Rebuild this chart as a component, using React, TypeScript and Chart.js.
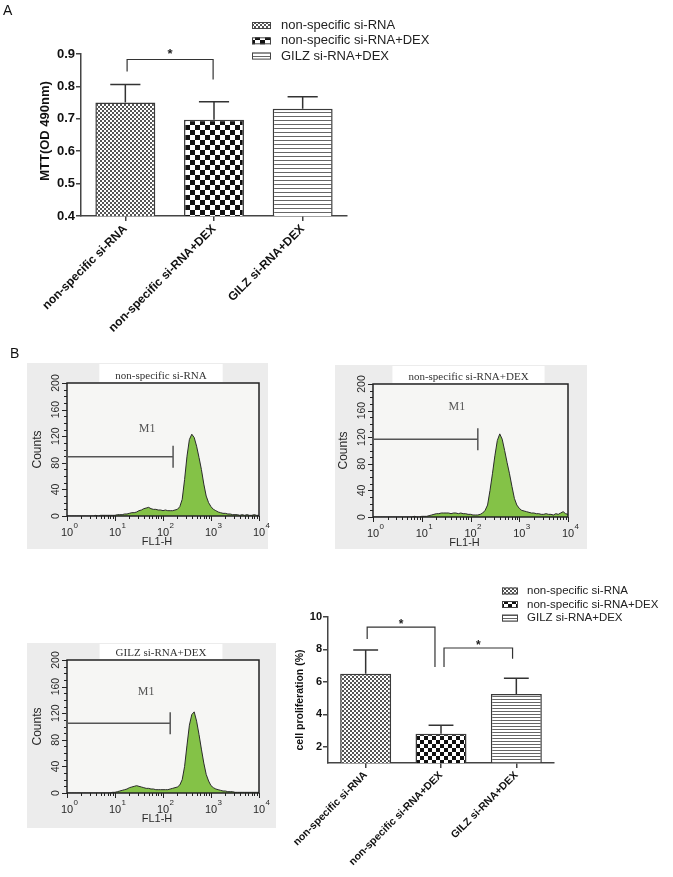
import React, { useEffect, useRef } from 'react';
import { Chart, registerables } from 'chart.js';

Chart.register(...registerables);

const PAGE_W = 673;
const PAGE_H = 877;
const SANS = '"Liberation Sans", Arial, Helvetica, sans-serif';
const SERIF = '"Liberation Serif", "Times New Roman", serif';

// ---------------- data ----------------
const groups = ['non-specific si-RNA', 'non-specific si-RNA+DEX', 'GILZ si-RNA+DEX'];

const mttMeans = [0.75, 0.697, 0.731];
const mttErrors = [0.056, 0.056, 0.037];
const mttTicks = [0.4, 0.5, 0.6, 0.7, 0.8, 0.9];
const mttBrackets = [{ from: 0.02, to: 0.99, level: 0.883, leftEnd: 0.846, rightEnd: 0.821 }];

const prolifMeans = [6.5, 2.8, 5.26];
const prolifErrors = [1.47, 0.52, 0.96];
const prolifTicks = [2, 4, 6, 8, 10];
const prolifBrackets = [
  { from: 0.02, to: 0.92, level: 9.38, leftEnd: 8.65, rightEnd: 6.92 },
  { from: 1.04, to: 1.95, level: 8.09, leftEnd: 6.92, rightEnd: 7.42 },
];

const histTitles = ['non-specific si-RNA', 'non-specific si-RNA+DEX', 'GILZ si-RNA+DEX'];
const histBinStep = 0.05; // decades per channel (FL1-H, log scale 10^0..10^4)
const countsNonSpecific = [
  0, 0, 0, 0, 0, 0, 0, 0, 0, 0, 0, 0, 1, 0, 1,
  1, 1, 1, 1, 1,
  1, 2, 2, 2, 3, 3, 4, 5, 5, 6, 8, 9, 11, 12, 13, 11, 10, 10, 9, 9,
  8, 9, 8, 8, 8, 9, 10, 14, 25, 55, 90, 115, 123, 118, 105, 88, 70, 48, 30, 20,
  14, 10, 8, 6, 5, 4, 4, 3, 3,
  2, 2, 2, 1, 2, 1, 2, 1, 1, 2, 1, 1,
];
const countsNonSpecificDex = [
  0, 0, 0, 0, 0, 0, 0, 0, 0, 0, 0, 0, 0, 0, 0, 0, 0, 1, 0, 0, 1,
  1, 1, 2, 3, 4, 5, 5, 6, 6, 6, 6, 5, 6, 6, 5, 6, 5, 5, 4, 4, 3, 3, 3,
  4, 6, 10, 18, 40, 65, 92, 115, 125, 117, 100, 82, 65, 46, 28, 18,
  13, 10, 9, 8, 7, 6, 6, 5, 5, 4, 4, 5, 4, 4, 3, 5, 4, 6, 8, 5, 4,
];
const countsGilzDex = [
  0, 0, 0, 0, 0, 0, 0, 0, 0, 0, 0, 0, 0, 0, 0, 0, 0, 0, 0,
  1, 1, 2, 3, 4, 5, 6, 8, 9, 10, 11, 10, 9, 8, 7, 7, 6, 6, 5, 5, 5,
  5, 5, 5, 6, 7, 8, 9, 12, 20, 40, 72, 102, 118, 122, 108, 88, 66, 45, 28, 18,
  11, 8, 6, 5, 4, 3, 3, 2, 2, 2, 1, 1, 1, 1, 1, 1, 1, 1, 1, 1, 1,
];
const decadeTicks = [0, 1, 2, 3, 4];
const countTicks = [0, 40, 80, 120, 160, 200];
const m1Levels = [89, 117, 105];
const m1Ends = [2.21, 2.15, 2.15];
const m1LabelX = [1.67, 1.72, 1.65];
const m1LabelY = [131, 165, 152];

// ---------------- helpers ----------------
function makePattern(kind: string, size: number): any {
  const c = document.createElement('canvas');
  const g = c.getContext('2d')!;
  if (kind === 'fine') {
    c.width = 4; c.height = 4;
    g.fillStyle = '#ffffff'; g.fillRect(0, 0, 4, 4);
    g.fillStyle = '#555555'; g.fillRect(0, 0, 2, 2); g.fillRect(2, 2, 2, 2);
  } else if (kind === 'checker') {
    c.width = size * 2; c.height = size * 2;
    g.fillStyle = '#ffffff'; g.fillRect(0, 0, c.width, c.height);
    g.fillStyle = '#111111'; g.fillRect(0, 0, size, size); g.fillRect(size, size, size, size);
  } else {
    c.width = 4; c.height = size;
    g.fillStyle = '#ffffff'; g.fillRect(0, 0, 4, size);
    g.fillStyle = '#666666'; g.fillRect(0, 0, 4, 1);
  }
  return g.createPattern(c, 'repeat');
}

const canvasStyle: React.CSSProperties = { position: 'absolute', left: 0, top: 0, pointerEvents: 'none' };

// ---------------- bar panel ----------------
function BarPanel({ spec }: { spec: any }) {
  const ref = useRef<HTMLCanvasElement>(null);
  useEffect(() => {
    const canvas = ref.current!;
    const fills = [makePattern('fine', 2), makePattern('checker', spec.checker), makePattern('lines', spec.lines)];
    const { l, t, r, b } = spec.area;
    const overlay = {
      id: 'overlay',
      afterDraw(chart: any) {
        const g = chart.ctx;
        const xs = chart.scales.x;
        const ys = chart.scales.y;
        const step = xs.getPixelForValue(1) - xs.getPixelForValue(0);
        g.save();
        g.strokeStyle = '#333';
        g.lineWidth = 1.5;
        spec.means.forEach((m: number, i: number) => {
          const x = xs.getPixelForValue(i);
          const y0 = ys.getPixelForValue(m);
          const y1 = ys.getPixelForValue(m + spec.errors[i]);
          const half = (step * spec.capFrac) / 2;
          g.beginPath();
          g.moveTo(x, y0); g.lineTo(x, y1);
          g.moveTo(x - half, y1); g.lineTo(x + half, y1);
          g.stroke();
        });
        g.lineWidth = 1.2;
        spec.brackets.forEach((br: any) => {
          const x0 = xs.getPixelForValue(br.from);
          const x1 = xs.getPixelForValue(br.to);
          const yl = ys.getPixelForValue(br.level);
          g.strokeStyle = '#333';
          g.beginPath();
          g.moveTo(x0, ys.getPixelForValue(br.leftEnd));
          g.lineTo(x0, yl);
          g.lineTo(x1, yl);
          g.lineTo(x1, ys.getPixelForValue(br.rightEnd));
          g.stroke();
          g.fillStyle = '#222';
          g.font = spec.starFont;
          g.textAlign = 'center';
          g.textBaseline = 'alphabetic';
          g.fillText('*', (x0 + x1) / 2, yl + spec.starDy);
        });
        g.save();
        g.translate(spec.yTitlePos[0], spec.yTitlePos[1]);
        g.rotate(-Math.PI / 2);
        g.font = spec.yTitleFont;
        g.textAlign = 'center';
        g.textBaseline = 'middle';
        g.fillStyle = '#111';
        g.fillText(spec.yTitle, 0, 0);
        g.restore();
        const lg = spec.legend;
        groups.forEach((name, i) => {
          const cy = lg.y0 + i * lg.dy;
          g.fillStyle = fills[i];
          g.fillRect(lg.x, cy - lg.sh / 2, lg.sw, lg.sh);
          g.strokeStyle = '#444';
          g.lineWidth = 1;
          g.strokeRect(lg.x + 0.5, cy - lg.sh / 2 + 0.5, lg.sw - 1, lg.sh - 1);
          g.fillStyle = '#222';
          g.font = lg.font;
          g.textAlign = 'left';
          g.textBaseline = 'middle';
          g.fillText(name, lg.textX, cy);
        });
        g.restore();
      },
    };
    const chart = new Chart(canvas, {
      type: 'bar',
      data: {
        labels: groups,
        datasets: [
          {
            data: spec.means,
            backgroundColor: fills,
            borderColor: '#3a3a3a',
            borderWidth: 1.5,
            barPercentage: spec.barPct,
            categoryPercentage: 1,
          },
        ],
      },
      options: {
        animation: false,
        responsive: false,
        maintainAspectRatio: false,
        events: [],
        layout: { padding: { left: l - spec.yW, top: t, right: PAGE_W - r, bottom: PAGE_H - b - spec.xH } },
        plugins: { legend: { display: false }, tooltip: { enabled: false } },
        scales: {
          x: {
            type: 'category',
            grid: { display: true, drawOnChartArea: false, offset: false, tickLength: 5, color: '#444', lineWidth: 1.5 },
            border: { display: true, color: '#444', width: 1.5 },
            ticks: { minRotation: 45, maxRotation: 45, autoSkip: false, color: '#111', padding: 1, font: { family: SANS, size: spec.catSize, weight: 'bold' } },
            afterFit: (s: any) => { s.height = spec.xH; },
          },
          y: {
            type: 'linear',
            min: spec.yMin,
            max: spec.yMax,
            grid: { display: true, drawOnChartArea: false, tickLength: 5, color: '#444', lineWidth: 1.5 },
            border: { display: true, color: '#444', width: 1.5 },
            ticks: {
              color: '#111',
              padding: 1,
              font: { family: SANS, size: spec.tickSize, weight: 'bold' },
              callback: (v: any) => Number(v).toFixed(spec.digits),
            },
            afterBuildTicks: (s: any) => { s.ticks = spec.ticks.map((v: number) => ({ value: v })); },
            afterFit: (s: any) => { s.width = spec.yW; },
          },
        },
      } as any,
      plugins: [overlay],
    });
    return () => chart.destroy();
  }, []);
  return <canvas ref={ref} width={PAGE_W} height={PAGE_H} style={canvasStyle} />;
}

// ---------------- histogram panel ----------------
function HistPanel({ spec }: { spec: any }) {
  const ref = useRef<HTMLCanvasElement>(null);
  useEffect(() => {
    const canvas = ref.current!;
    const { l, t, r, b } = spec.box;
    const p = spec.panel;
    const deco = {
      id: 'deco',
      beforeDraw(chart: any) {
        const g = chart.ctx;
        const a = chart.chartArea;
        g.save();
        g.fillStyle = '#ececec';
        g.fillRect(p.x0, p.y0, p.x1 - p.x0, p.y1 - p.y0);
        g.fillStyle = '#f6f6f4';
        g.fillRect(a.left, a.top, a.right - a.left, a.bottom - a.top);
        g.font = `11px ${SERIF}`;
        const tw = g.measureText(spec.title).width;
        const cx = (a.left + a.right) / 2 - 2;
        g.fillStyle = '#ffffff';
        g.fillRect(cx - tw / 2 - 16, p.y0 + 1, tw + 32, a.top - p.y0 - 2);
        g.restore();
      },
      afterDraw(chart: any) {
        const g = chart.ctx;
        const a = chart.chartArea;
        const xs = chart.scales.x;
        const ys = chart.scales.y;
        g.save();
        // box
        g.strokeStyle = '#222';
        g.lineWidth = 1.5;
        g.strokeRect(a.left, a.top, a.right - a.left, a.bottom - a.top);
        // y ticks
        g.lineWidth = 1;
        g.beginPath();
        for (let v = 0; v <= 200; v += 10) {
          const y = Math.round(ys.getPixelForValue(v)) + 0.5;
          const len = countTicks.includes(v) ? 5 : 3;
          g.moveTo(a.left - len, y); g.lineTo(a.left, y);
        }
        // x ticks (log decades with minor ticks)
        decadeTicks.forEach((d) => {
          const x = Math.round(xs.getPixelForValue(d)) + 0.5;
          g.moveTo(x, a.bottom); g.lineTo(x, a.bottom + 5);
          if (d < 4) {
            for (let k = 2; k <= 9; k++) {
              const xm = Math.round(xs.getPixelForValue(d + Math.log10(k))) + 0.5;
              g.moveTo(xm, a.bottom); g.lineTo(xm, a.bottom + 3);
            }
          }
        });
        g.stroke();
        // y labels (rotated)
        g.fillStyle = '#2a2a2a';
        countTicks.forEach((v) => {
          g.save();
          g.translate(a.left - 11, ys.getPixelForValue(v));
          g.rotate(-Math.PI / 2);
          g.font = `10.5px ${SANS}`;
          g.textAlign = 'center';
          g.textBaseline = 'middle';
          g.fillText(String(v), 0, 0);
          g.restore();
        });
        g.save();
        g.translate(a.left - 29, (a.top + a.bottom) / 2);
        g.rotate(-Math.PI / 2);
        g.font = `12px ${SANS}`;
        g.textAlign = 'center';
        g.textBaseline = 'middle';
        g.fillText('Counts', 0, 0);
        g.restore();
        // x labels 10^n
        decadeTicks.forEach((d) => {
          const x = xs.getPixelForValue(d);
          g.font = `11px ${SANS}`;
          const bw = g.measureText('10').width;
          g.textAlign = 'left';
          g.textBaseline = 'alphabetic';
          g.fillText('10', x - bw / 2, a.bottom + 20);
          g.font = `8px ${SANS}`;
          g.fillText(String(d), x + bw / 2 + 0.5, a.bottom + 12);
        });
        g.font = `11px ${SANS}`;
        g.textAlign = 'center';
        g.fillText('FL1-H', (a.left + a.right) / 2 - 6, a.bottom + 29);
        // title
        g.font = `11px ${SERIF}`;
        g.fillStyle = '#333';
        g.fillText(spec.title, (a.left + a.right) / 2 - 2, a.top - 4);
        // M1 gate
        const ym = ys.getPixelForValue(spec.m1Level);
        const xe = xs.getPixelForValue(spec.m1End);
        g.strokeStyle = '#555';
        g.lineWidth = 1.5;
        g.beginPath();
        g.moveTo(a.left, ym); g.lineTo(xe, ym);
        g.moveTo(xe, ym - 11); g.lineTo(xe, ym + 11);
        g.moveTo(a.left, ym - 11); g.lineTo(a.left, ym + 11);
        g.stroke();
        g.fillStyle = '#555';
        g.font = `12px ${SERIF}`;
        g.textAlign = 'center';
        g.textBaseline = 'middle';
        g.fillText('M1', xs.getPixelForValue(spec.m1LabelX), ys.getPixelForValue(spec.m1LabelY));
        g.restore();
      },
    };
    const chart = new Chart(canvas, {
      type: 'line',
      data: {
        datasets: [
          {
            data: spec.counts.map((c: number, i: number) => ({ x: i * histBinStep, y: c })),
            fill: 'origin',
            backgroundColor: '#84c247',
            borderColor: '#2b2b2b',
            borderWidth: 1,
            pointRadius: 0,
            tension: 0,
          },
        ],
      },
      options: {
        animation: false,
        responsive: false,
        maintainAspectRatio: false,
        events: [],
        layout: { padding: { left: l, top: t, right: PAGE_W - r, bottom: PAGE_H - b } },
        plugins: { legend: { display: false }, tooltip: { enabled: false } },
        scales: {
          x: { type: 'linear', min: 0, max: 4, display: false },
          y: { type: 'linear', min: 0, max: 200, display: false },
        },
      } as any,
      plugins: [deco],
    });
    return () => chart.destroy();
  }, []);
  return <canvas ref={ref} width={PAGE_W} height={PAGE_H} style={canvasStyle} />;
}

// ---------------- app ----------------
export default function App() {
  const mttSpec = {
    means: mttMeans, errors: mttErrors, ticks: mttTicks, digits: 1,
    yMin: 0.4, yMax: 0.9,
    area: { l: 81, t: 54, r: 347, b: 216 }, yW: 81, xH: 130,
    barPct: 0.676, capFrac: 0.34, checker: 5, lines: 4,
    tickSize: 13, catSize: 12,
    brackets: mttBrackets, starFont: `bold 13px ${SANS}`, starDy: -2,
    yTitle: 'MTT(OD 490nm)', yTitleFont: `bold 13px ${SANS}`, yTitlePos: [45, 131],
    legend: { x: 252, y0: 25.5, dy: 15.3, sw: 19, sh: 7, textX: 281, font: `13px ${SANS}` },
  };
  const prolifSpec = {
    means: prolifMeans, errors: prolifErrors, ticks: prolifTicks, digits: 0,
    yMin: 1, yMax: 10,
    area: { l: 328, t: 617, r: 554, b: 763 }, yW: 40, xH: 110,
    barPct: 0.677, capFrac: 0.33, checker: 4, lines: 3,
    tickSize: 11, catSize: 10.5,
    brackets: prolifBrackets, starFont: `bold 12px ${SANS}`, starDy: 1,
    yTitle: 'cell proliferation (%)', yTitleFont: `bold 10.5px ${SANS}`, yTitlePos: [300, 700],
    legend: { x: 502, y0: 591, dy: 13.5, sw: 16, sh: 7, textX: 527, font: `11.5px ${SANS}` },
  };
  const hists = [
    { counts: countsNonSpecific, title: histTitles[0], box: { l: 67, t: 383, r: 259, b: 516 }, panel: { x0: 27, y0: 363, x1: 268, y1: 549 }, m1Level: m1Levels[0], m1End: m1Ends[0], m1LabelX: m1LabelX[0], m1LabelY: m1LabelY[0] },
    { counts: countsNonSpecificDex, title: histTitles[1], box: { l: 373, t: 384, r: 568, b: 517 }, panel: { x0: 335, y0: 365, x1: 587, y1: 549 }, m1Level: m1Levels[1], m1End: m1Ends[1], m1LabelX: m1LabelX[1], m1LabelY: m1LabelY[1] },
    { counts: countsGilzDex, title: histTitles[2], box: { l: 67, t: 660, r: 259, b: 793 }, panel: { x0: 27, y0: 643, x1: 276, y1: 828 }, m1Level: m1Levels[2], m1End: m1Ends[2], m1LabelX: m1LabelX[2], m1LabelY: m1LabelY[2] },
  ];
  const letter: React.CSSProperties = { position: 'absolute', fontFamily: SANS, fontSize: 14, color: '#111', lineHeight: '16px' };
  return (
    <div style={{ position: 'absolute', left: 0, top: 0, width: PAGE_W, height: PAGE_H, background: '#fff', overflow: 'hidden' }}>
      {hists.map((h, i) => <HistPanel key={i} spec={h} />)}
      <BarPanel spec={mttSpec} />
      <BarPanel spec={prolifSpec} />
      <div style={{ ...letter, left: 3, top: 2 }}>A</div>
      <div style={{ ...letter, left: 10, top: 345 }}>B</div>
    </div>
  );
}
